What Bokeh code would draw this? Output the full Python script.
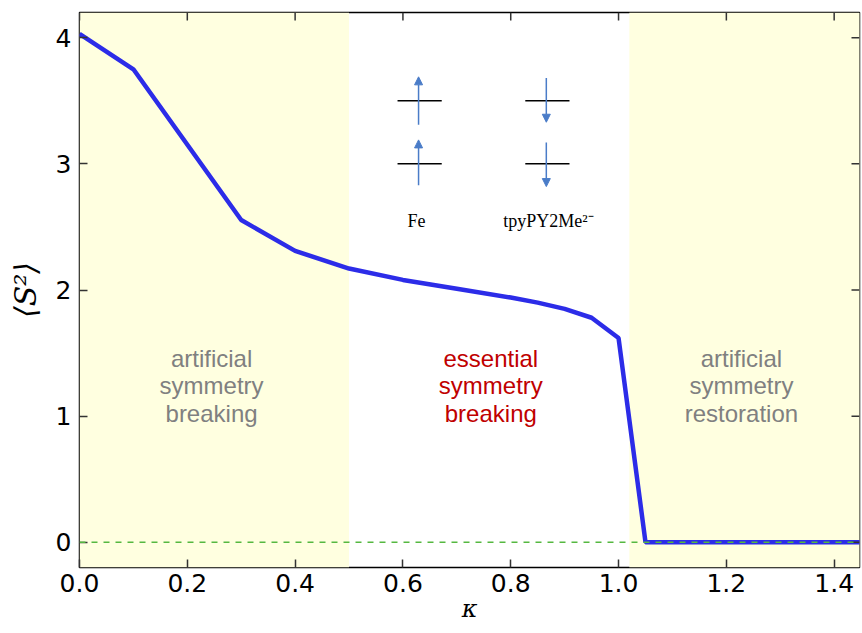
import math
from bokeh.plotting import figure
from bokeh.models import BoxAnnotation, Span, Arrow, NormalHead, Range1d, FixedTicker
from bokeh.core.properties import value
from bokeh.embed import file_html
from bokeh.resources import INLINE

# data
kappa = [0.0, 0.1, 0.3, 0.4, 0.5, 0.6, 0.7, 0.8, 0.85, 0.9, 0.95, 1.0, 1.05, 1.45]
s2 = [4.03, 3.75, 2.555, 2.31, 2.17, 2.08, 2.01, 1.94, 1.90, 1.85, 1.78, 1.62, 0.0, 0.0]

x_ticks = [0.0, 0.2, 0.4, 0.6, 0.8, 1.0, 1.2, 1.4]
y_ticks = [0, 1, 2, 3, 4]
x_max = 1.447
y_min, y_max = -0.2, 4.2

regions_left = [0.0, 1.02]
regions_right = [0.5, 1.45]

label_x = [0.245, 0.763, 1.228]
label_lines = [["artificial", "symmetry", "breaking"],
               ["essential", "symmetry", "breaking"],
               ["artificial", "symmetry", "restoration"]]
label_colors = ["#808080", "#c00000", "#808080"]
line_y = [1.46, 1.24, 1.02]

# inset schematic (orbital levels and spins)
level_x0 = [0.590, 0.590, 0.827, 0.827]
level_x1 = [0.672, 0.672, 0.909, 0.909]
level_y = [3.5, 3.0, 3.5, 3.0]
arrow_x = [0.629, 0.629, 0.866, 0.866]
arrow_y0 = [3.31, 2.83, 3.68, 3.17]
arrow_y1 = [3.69, 3.19, 3.33, 2.82]
species_x = [0.625, 0.87]
species_y = [2.55, 2.55]
species_names = ["Fe", "tpyPY2Me²⁻"]

p = figure(width=862, height=633, output_backend="svg", toolbar_location=None,
           x_range=Range1d(0, x_max), y_range=Range1d(y_min, y_max),
           min_border_left=79, min_border_right=3, min_border_top=12, min_border_bottom=66)
p.grid.visible = False
p.outline_line_color = "black"
p.outline_line_width = 1.5
p.background_fill_color = "white"

for l, r in zip(regions_left, regions_right):
    p.add_layout(BoxAnnotation(left=l, right=r, fill_color="#ffffe0", fill_alpha=1.0, line_alpha=0, level="underlay"))

p.add_layout(Span(location=0, dimension="width", line_color="#55b840", line_dash="6 6", line_width=1.5))

p.line(kappa, s2, line_color="#2c2ce8", line_width=4.5)

for i in range(3):
    for j in range(3):
        p.text(x=[label_x[i]], y=[line_y[j]], text=[label_lines[i][j]], text_align="center",
               text_baseline="middle", text_color=label_colors[i], text_font=value("Liberation Sans"),
               text_font_size="24px")

p.segment(x0=level_x0, y0=level_y, x1=level_x1, y1=level_y, line_color="black", line_width=1.5)
for ax, a0, a1 in zip(arrow_x, arrow_y0, arrow_y1):
    p.add_layout(Arrow(x_start=ax, y_start=a0, x_end=ax, y_end=a1, line_color="#4a7cc8", line_width=1.5,
                       end=NormalHead(size=8, fill_color="#4a7cc8", line_color="#4a7cc8")))
p.text(x=species_x, y=species_y, text=species_names, text_align="center", text_baseline="middle",
       text_font=value("Liberation Serif"), text_font_size="18px", text_color="black")

# inward ticks on the top and right frame edges
p.ray(x=x_ticks, y=[y_max] * len(x_ticks), length=8, length_units="screen", angle=-math.pi / 2,
      line_color="#333333", line_width=1.5)
p.ray(x=[x_max] * len(y_ticks), y=y_ticks, length=8, length_units="screen", angle=math.pi,
      line_color="#333333", line_width=1.5)

for ax in [p.xaxis[0], p.yaxis[0]]:
    ax.major_tick_in = 8
    ax.major_tick_out = 0
    ax.major_tick_line_width = 1.5
    ax.minor_tick_line_color = None
    ax.axis_line_color = None
    ax.major_label_text_font = "DejaVu Sans"
    ax.major_label_text_font_size = "25px"
    ax.major_label_text_color = "black"
    ax.major_tick_line_color = "#333333"
    ax.axis_label_text_color = "black"
p.xaxis.ticker = FixedTicker(ticks=x_ticks)
p.yaxis.ticker = FixedTicker(ticks=y_ticks)
p.xaxis.major_label_overrides = {t: f"{t:.1f}" for t in x_ticks}
p.xaxis.axis_label = "κ"
p.xaxis.axis_label_text_font = "DejaVu Serif"
p.xaxis.axis_label_text_font_style = "italic"
p.xaxis.axis_label_text_font_size = "24px"
p.xaxis.axis_label_standoff = 0
p.yaxis.axis_label = "⟨S²⟩"
p.yaxis.axis_label_text_font = "DejaVu Serif"
p.yaxis.axis_label_text_font_style = "italic"
p.yaxis.axis_label_text_font_size = "30px"
p.yaxis.axis_label_standoff = 10
p.xaxis.major_label_standoff = 6
p.yaxis.major_label_standoff = 8

open("out.html", "w").write(file_html(p, INLINE))
